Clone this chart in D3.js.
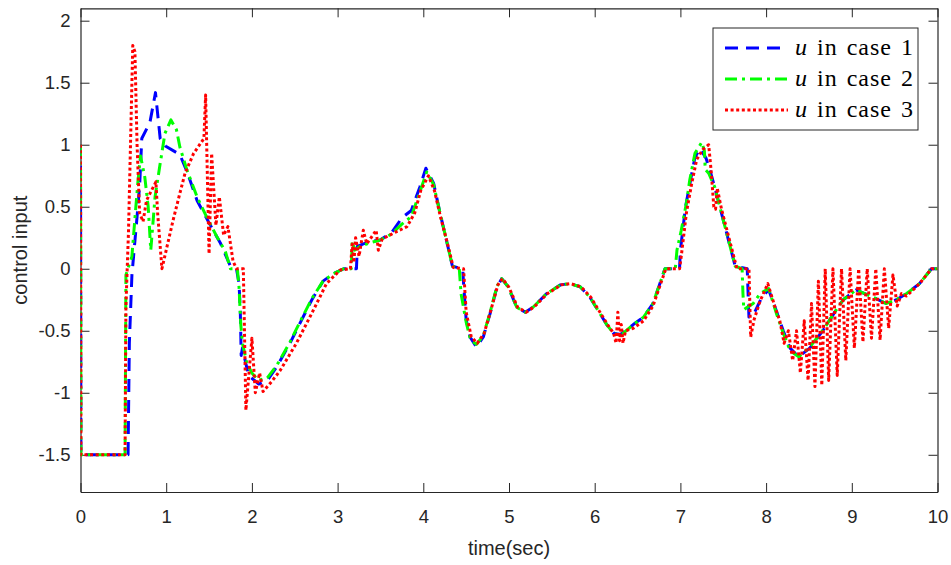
<!DOCTYPE html>
<html lang="en">
  <head>
    <meta charset="UTF-8" />
    <title>control input</title>
    <script src="https://d3js.org/d3.v7.min.js"></script>
    <style>
      body { margin: 0; background: #fff; }
      .axis text { font-family: 'Liberation Sans', Arial, sans-serif; font-size: 18.5px; fill: #262626; }
      .axis path, .axis line { stroke: #262626; }
      .label { font-family: 'Liberation Sans', Arial, sans-serif; font-size: 20px; fill: #262626; }
      .legend text { font-family: 'Liberation Serif', 'DejaVu Serif', serif; font-size: 24px; fill: #000; letter-spacing: 1px; word-spacing: 2px; }
    </style>
  </head>
  <body>
    <div id="chart"></div>
    <script>
      // series values [time, u]
      const case1 = [
        [0, 1.0], [0.005, -1.5], [0.555, -1.5], [0.57, -0.6], [0.6, -0.05], [0.66, 0.42], [0.69, 0.67],
        [0.715, 1.05], [0.81, 1.18], [0.875, 1.42], [0.9, 1.25], [0.93, 1.05], [0.99, 0.99], [1.16, 0.92],
        [1.25, 0.77], [1.36, 0.55], [1.5, 0.37], [1.63, 0.21], [1.75, 0.02], [1.82, 0.0], [1.85, -0.12],
        [1.865, -0.35], [1.875, -0.7], [1.89, -0.64], [1.96, -0.86], [2.08, -0.93], [2.18, -0.9],
        [2.29, -0.79], [2.445, -0.6], [2.56, -0.44], [2.7, -0.25], [2.83, -0.1], [2.95, -0.04], [3.07, 0.0],
        [3.22, 0.0], [3.23, 0.18], [3.3, 0.2], [3.38, 0.22], [3.49, 0.23], [3.63, 0.29], [3.75, 0.41],
        [3.86, 0.47], [3.96, 0.66], [4.03, 0.81], [4.12, 0.69], [4.195, 0.45], [4.27, 0.23], [4.34, 0.02],
        [4.46, 0.0], [4.47, -0.12], [4.5, -0.41], [4.545, -0.55], [4.62, -0.63], [4.7, -0.55], [4.78, -0.36],
        [4.86, -0.145], [4.915, -0.08], [4.99, -0.145], [5.09, -0.31], [5.19, -0.35], [5.28, -0.31],
        [5.44, -0.2], [5.6, -0.13], [5.71, -0.12], [5.83, -0.145], [5.945, -0.23], [6.06, -0.36],
        [6.14, -0.45], [6.22, -0.52], [6.3, -0.53], [6.45, -0.45], [6.57, -0.39], [6.68, -0.28],
        [6.76, -0.12], [6.82, 0.0], [6.99, 0.0], [7.0, 0.15], [7.06, 0.5], [7.12, 0.72], [7.17, 0.9],
        [7.23, 0.97], [7.3, 0.89], [7.35, 0.78], [7.4, 0.66], [7.46, 0.5], [7.52, 0.34], [7.58, 0.18],
        [7.64, 0.02], [7.78, 0.0], [7.79, -0.2], [7.8, -0.39], [7.86, -0.36], [7.95, -0.23], [8.03, -0.17],
        [8.12, -0.34], [8.2, -0.5], [8.28, -0.64], [8.38, -0.71], [8.51, -0.64], [8.67, -0.49],
        [8.82, -0.33], [8.9, -0.25], [9.05, -0.17], [9.25, -0.23], [9.4, -0.28], [9.52, -0.25],
        [9.64, -0.2], [9.79, -0.12], [9.93, 0.0], [10, 0.0]
      ];

      const case2 = [
        [0, 1.0], [0.005, -1.5], [0.52, -1.5], [0.53, -0.05], [0.6, 0.1], [0.64, 0.45], [0.67, 0.7],
        [0.7, 0.91], [0.75, 0.74], [0.79, 0.5], [0.82, 0.15], [0.87, 0.58], [0.93, 0.85], [0.985, 1.09],
        [1.055, 1.2], [1.12, 1.12], [1.16, 0.98], [1.24, 0.8], [1.36, 0.58], [1.47, 0.42], [1.59, 0.26],
        [1.69, 0.14], [1.75, 0.0], [1.83, 0.0], [1.85, -0.15], [1.87, -0.45], [1.89, -0.6], [1.94, -0.76],
        [2.0, -0.84], [2.075, -0.9], [2.18, -0.88], [2.29, -0.78], [2.445, -0.59], [2.56, -0.43],
        [2.7, -0.24], [2.83, -0.1], [2.95, -0.04], [3.07, 0.0], [3.16, 0.0], [3.17, 0.22], [3.2, 0.15],
        [3.26, 0.18], [3.38, 0.21], [3.49, 0.23], [3.63, 0.28], [3.75, 0.36], [3.86, 0.42], [3.96, 0.62],
        [4.04, 0.78], [4.12, 0.68], [4.195, 0.45], [4.27, 0.23], [4.34, 0.02], [4.42, 0.0], [4.44, -0.2],
        [4.5, -0.43], [4.55, -0.57], [4.62, -0.61], [4.7, -0.54], [4.78, -0.35], [4.86, -0.14],
        [4.915, -0.08], [4.99, -0.145], [5.09, -0.31], [5.19, -0.35], [5.28, -0.31], [5.44, -0.2],
        [5.6, -0.13], [5.71, -0.12], [5.83, -0.145], [5.945, -0.23], [6.06, -0.36], [6.14, -0.45],
        [6.22, -0.52], [6.3, -0.54], [6.45, -0.45], [6.57, -0.39], [6.68, -0.28], [6.76, -0.12],
        [6.82, 0.0], [6.94, 0.0], [6.96, 0.15], [7.01, 0.31], [7.07, 0.53], [7.11, 0.72], [7.17, 0.93],
        [7.25, 1.02], [7.28, 0.95], [7.29, 0.8], [7.33, 0.77], [7.4, 0.66], [7.46, 0.5], [7.52, 0.34],
        [7.58, 0.18], [7.64, 0.02], [7.72, 0.0], [7.73, -0.2], [7.74, -0.33], [7.78, -0.31], [7.85, -0.28],
        [7.93, -0.2], [8.03, -0.16], [8.12, -0.36], [8.2, -0.52], [8.28, -0.66], [8.38, -0.71],
        [8.51, -0.63], [8.67, -0.49], [8.82, -0.33], [8.9, -0.25], [9.05, -0.17], [9.25, -0.23],
        [9.4, -0.28], [9.52, -0.25], [9.64, -0.2], [9.79, -0.12], [9.93, 0.0], [10, 0.0]
      ];

      const case3 = [
        [0, 1.0], [0.005, -1.5], [0.52, -1.5], [0.53, -0.3], [0.56, 0.3], [0.59, 1.2], [0.61, 1.8],
        [0.635, 1.75], [0.66, 1.0], [0.69, 0.45], [0.73, 0.38], [0.77, 0.55], [0.82, 0.62], [0.88, 0.7],
        [0.9, 0.45], [0.95, 0.0], [1.01, 0.18], [1.08, 0.39], [1.16, 0.61], [1.22, 0.77], [1.32, 0.93],
        [1.4, 1.01], [1.44, 1.05], [1.46, 1.4], [1.5, 0.12], [1.53, 0.93], [1.58, 0.35], [1.62, 0.58],
        [1.67, 0.27], [1.72, 0.34], [1.78, 0.06], [1.82, 0.0], [1.9, 0.0], [1.93, -1.14], [2.0, -0.56],
        [2.04, -1.0], [2.09, -0.84], [2.13, -0.99], [2.23, -0.91], [2.33, -0.82], [2.52, -0.6],
        [2.72, -0.33], [2.87, -0.12], [3.03, -0.01], [3.15, 0.0], [3.17, 0.2], [3.19, 0.05], [3.21, 0.25],
        [3.25, 0.1], [3.3, 0.31], [3.34, 0.2], [3.45, 0.31], [3.475, 0.15], [3.52, 0.24], [3.69, 0.3],
        [3.81, 0.34], [3.9, 0.45], [3.97, 0.63], [4.06, 0.75], [4.13, 0.63], [4.2, 0.42], [4.28, 0.21],
        [4.35, 0.01], [4.47, 0.0], [4.5, -0.35], [4.56, -0.55], [4.63, -0.6], [4.71, -0.52], [4.79, -0.33],
        [4.87, -0.13], [4.925, -0.08], [5.0, -0.15], [5.1, -0.31], [5.2, -0.35], [5.29, -0.31],
        [5.45, -0.2], [5.61, -0.13], [5.72, -0.12], [5.84, -0.145], [5.955, -0.23], [6.07, -0.36],
        [6.15, -0.45], [6.22, -0.52], [6.25, -0.6], [6.27, -0.35], [6.29, -0.58], [6.31, -0.45],
        [6.33, -0.6], [6.36, -0.5], [6.45, -0.48], [6.57, -0.42], [6.68, -0.3], [6.77, -0.12], [6.83, 0.0],
        [6.99, 0.0], [7.01, 0.1], [7.07, 0.45], [7.13, 0.68], [7.19, 0.88], [7.26, 0.96], [7.33, 1.0],
        [7.36, 0.78], [7.39, 0.5], [7.41, 0.48], [7.43, 0.65], [7.48, 0.48], [7.54, 0.32], [7.6, 0.16],
        [7.66, 0.0], [7.8, 0.0], [7.82, -0.55], [7.86, -0.41], [7.93, -0.26], [8.02, -0.12], [8.1, -0.3],
        [8.16, -0.42], [8.21, -0.6], [8.26, -0.5], [8.31, -0.74], [8.355, -0.5], [8.4, -0.84],
        [8.445, -0.42], [8.49, -0.9], [8.53, -0.28], [8.57, -0.95], [8.61, -0.1], [8.65, -0.94],
        [8.69, 0.0], [8.73, -0.9], [8.78, 0.0], [8.83, -0.86], [8.88, 0.0], [8.93, -0.74], [8.98, 0.0],
        [9.03, -0.64], [9.08, 0.0], [9.13, -0.59], [9.18, 0.0], [9.23, -0.56], [9.28, 0.0], [9.33, -0.575],
        [9.38, 0.0], [9.43, -0.48], [9.48, -0.05], [9.53, -0.3], [9.58, -0.2], [9.64, -0.22],
        [9.79, -0.12], [9.93, 0.0], [10, 0.0]
      ];

      const seriesNames = ['case 1', 'case 2', 'case 3'];
      const xTicks = [0, 1, 2, 3, 4, 5, 6, 7, 8, 9, 10];
      const yTicks = [-1.5, -1, -0.5, 0, 0.5, 1, 1.5, 2];

      const width = 951;
      const height = 565;
      const margin = { left: 80.5, right: 937.5, top: 8.3, bottom: 492 };

      const svg = d3
        .select('#chart')
        .append('svg')
        .attr('width', width)
        .attr('height', height);

      const x = d3.scaleLinear().domain([0, 10]).range([margin.left, margin.right]);
      const y = d3.scaleLinear().domain([-1.8, 2.1]).range([margin.bottom, margin.top]);

      svg.append('defs').append('clipPath').attr('id', 'clip')
        .append('rect')
        .attr('x', margin.left).attr('y', margin.top)
        .attr('width', margin.right - margin.left).attr('height', margin.bottom - margin.top);

      // axes, ticks pointing inward
      svg.append('g').attr('class', 'axis')
        .attr('transform', `translate(0,${margin.bottom})`)
        .call(d3.axisBottom(x).tickValues(xTicks).tickSizeInner(-9).tickSizeOuter(0).tickPadding(18).tickFormat(d3.format('d')));
      svg.append('g').attr('class', 'axis')
        .attr('transform', `translate(0,${margin.top})`)
        .call(d3.axisTop(x).tickValues(xTicks).tickSizeInner(-9).tickSizeOuter(0).tickFormat(''));
      svg.append('g').attr('class', 'axis')
        .attr('transform', `translate(${margin.left},0)`)
        .call(d3.axisLeft(y).tickValues(yTicks).tickSizeInner(-9).tickSizeOuter(0).tickPadding(10).tickFormat((d) => d));
      svg.append('g').attr('class', 'axis')
        .attr('transform', `translate(${margin.right},0)`)
        .call(d3.axisRight(y).tickValues(yTicks).tickSizeInner(-9).tickSizeOuter(0).tickFormat(''));

      svg.selectAll('.axis path').attr('stroke-width', 1.2);

      const line = d3.line().x((d) => x(d[0])).y((d) => y(d[1]));

      const styles = [
        { color: '#0000ff', dash: '13,8' },
        { color: '#00ff00', dash: '12,5,3,5' },
        { color: '#ff0000', dash: '3,2.6' }
      ];

      const plot = svg.append('g').attr('clip-path', 'url(#clip)');
      [case1, case2, case3].forEach((data, i) => {
        plot.append('path')
          .datum(data)
          .attr('d', line)
          .attr('fill', 'none')
          .attr('stroke', styles[i].color)
          .attr('stroke-width', 3)
          .attr('stroke-dasharray', styles[i].dash)
          .attr('stroke-linejoin', 'round');
      });

      // axis labels
      svg.append('text').attr('class', 'label')
        .attr('x', (margin.left + margin.right) / 2).attr('y', 555)
        .attr('text-anchor', 'middle')
        .text('time(sec)');
      svg.append('text').attr('class', 'label')
        .attr('transform', `translate(27,${(margin.top + margin.bottom) / 2}) rotate(-90)`)
        .attr('text-anchor', 'middle')
        .text('control input');

      // legend
      const legend = svg.append('g').attr('class', 'legend');
      legend.append('rect')
        .attr('x', 713).attr('y', 28).attr('width', 205).attr('height', 102)
        .attr('fill', '#fff').attr('stroke', '#262626').attr('stroke-width', 1);
      seriesNames.forEach((name, i) => {
        const ly = 48 + i * 31;
        legend.append('line')
          .attr('x1', 725).attr('x2', 788).attr('y1', ly).attr('y2', ly)
          .attr('stroke', styles[i].color).attr('stroke-width', 3)
          .attr('stroke-dasharray', styles[i].dash);
        const t = legend.append('text').attr('x', 795).attr('y', ly + 7);
        t.append('tspan').attr('font-style', 'italic').text('u');
        t.append('tspan').text(' in ' + name);
      });
    </script>
  </body>
</html>
